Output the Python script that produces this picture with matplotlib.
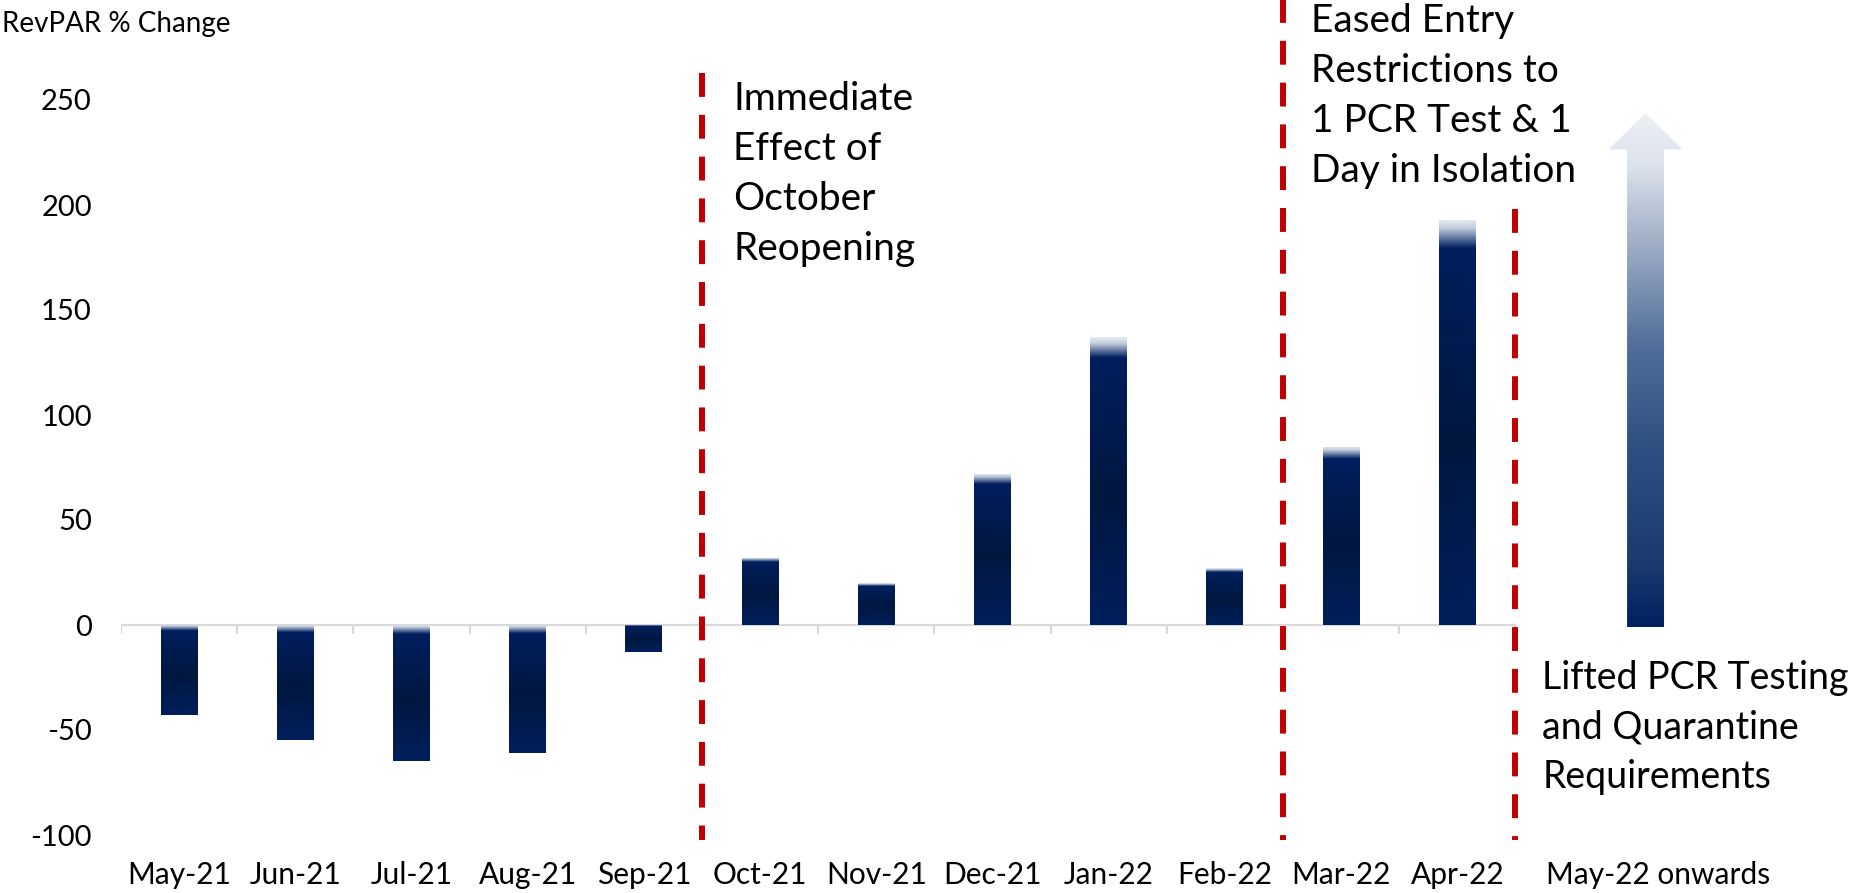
import numpy as np
import matplotlib
matplotlib.use("Agg")
import matplotlib.pyplot as plt
from matplotlib.colors import LinearSegmentedColormap
from matplotlib.patches import Polygon

plt.rcParams['font.family'] = ['Lato', 'DejaVu Sans']

# ─── DATA ─────────────────────────────────────────────────────────────────────
months = ['May-21', 'Jun-21', 'Jul-21', 'Aug-21', 'Sep-21', 'Oct-21',
          'Nov-21', 'Dec-21', 'Jan-22', 'Feb-22', 'Mar-22', 'Apr-22']
revpar_change = [-43, -55, -65, -61, -13, 32, 20, 72, 137, 27, 85, 193]
outlook_label = 'May-22 onwards'
y_ticks = [-100, -50, 0, 50, 100, 150, 200, 250]

# event markers: (boundary position, top of line in data units, text)
events = [
    (4.5, 263, 'Immediate\nEffect of\nOctober\nReopening'),
    (9.5, 298, 'Eased Entry\nRestrictions to\n1 PCR Test & 1\nDay in Isolation'),
    (11.5, 198, 'Lifted PCR Testing\nand Quarantine\nRequirements'),
]

# ─── STYLE ────────────────────────────────────────────────────────────────────
RED = '#C00000'
BAR_W = 0.318
OUTLOOK_X = 12.62

bar_cmap = LinearSegmentedColormap.from_list('bar', [
    (0.00, '#e6ebf2'), (0.02, '#c3cddc'), (0.045, '#5f779f'),
    (0.07, '#001f5e'), (0.55, '#00173f'), (1.00, '#001f5c')])
arrow_cmap = LinearSegmentedColormap.from_list('arrow', [
    (0.00, '#eef1f5'), (0.10, '#dde3ec'), (0.20, '#b5c0d3'),
    (0.33, '#8095b5'), (0.46, '#4f6d98'), (0.66, '#2d4f80'),
    (0.88, '#1a3a70'), (1.00, '#00215f')])

fig = plt.figure(figsize=(18.64, 8.93), dpi=100)
ax = fig.add_axes([121 / 1864, 58 / 893, 1743 / 1864, 735 / 893])
for s in ax.spines.values():
    s.set_visible(False)

# zero axis line with category tick marks
ax.plot([-0.5, 11.5], [0, 0], color='#d9d9d9', lw=1.6, zorder=1)
ax.vlines(np.arange(-0.5, 12, 1), -4.3, 0, color='#d9d9d9', lw=1.6, zorder=1)

# ─── BARS WITH GRADIENT ───────────────────────────────────────────────────────
x = np.arange(len(months))
bars = ax.bar(x, revpar_change, width=BAR_W, color='none', edgecolor='none', zorder=2)
grad = np.linspace(0, 1, 256).reshape(-1, 1)
for rect in bars:
    x0, w = rect.get_x(), rect.get_width()
    y0, h = rect.get_y(), rect.get_height()
    ylo, yhi = min(y0, y0 + h), max(y0, y0 + h)
    im = ax.imshow(grad, cmap=bar_cmap, aspect='auto', origin='upper',
                   extent=(x0, x0 + w, ylo, yhi), zorder=2, interpolation='bilinear')
    im.set_clip_path(rect)

# ─── OUTLOOK ARROW ────────────────────────────────────────────────────────────
a_bot, a_top, head_len = -1.0, 244, 17.6
sx0, sx1 = OUTLOOK_X - BAR_W / 2, OUTLOOK_X + BAR_W / 2
hx0, hx1 = OUTLOOK_X - BAR_W, OUTLOOK_X + BAR_W
arrow = Polygon([(sx0, a_bot), (sx1, a_bot), (sx1, a_top - head_len),
                 (hx1, a_top - head_len), (OUTLOOK_X, a_top),
                 (hx0, a_top - head_len), (sx0, a_top - head_len)],
                closed=True, facecolor='none', edgecolor='none')
ax.add_patch(arrow)
im = ax.imshow(grad, cmap=arrow_cmap, aspect='auto', origin='upper',
               extent=(hx0, hx1, a_bot, a_top), zorder=2, interpolation='bilinear')
im.set_clip_path(arrow)

# ─── EVENT LINES AND TEXT ─────────────────────────────────────────────────────
text_pos = [(4.768, 259, 28), (9.74, 296, 28), (11.73, -16.5, 27)]
for (bx, ytop, label), (tx, ty, fs) in zip(events, text_pos):
    ax.plot([bx, bx], [ytop, -102.4], color=RED, lw=4.3, dashes=(4, 3),
            clip_on=False, zorder=3, solid_capstyle='butt', dash_capstyle='butt')
    ax.text(tx, ty, label, fontsize=fs, va='top', ha='left', linespacing=1.48,
            color='black', clip_on=False)

# ─── AXES LABELS ──────────────────────────────────────────────────────────────
ax.set_yticks(y_ticks)
ax.set_yticklabels([str(v) for v in y_ticks], fontsize=21)
ax.set_xticks(list(x) + [12.73])
ax.set_xticklabels(months + [outlook_label], fontsize=21.5)
ax.tick_params(axis='y', length=0, pad=21)
ax.tick_params(axis='x', length=0, pad=19)
ax.set_xlim(-0.5, 14.50)
ax.set_ylim(-100, 250)

fig.text(0.001, 1 - 24 / 893, 'RevPAR % Change', fontsize=20, va='center', ha='left')

fig.savefig('out.png', dpi=100)
